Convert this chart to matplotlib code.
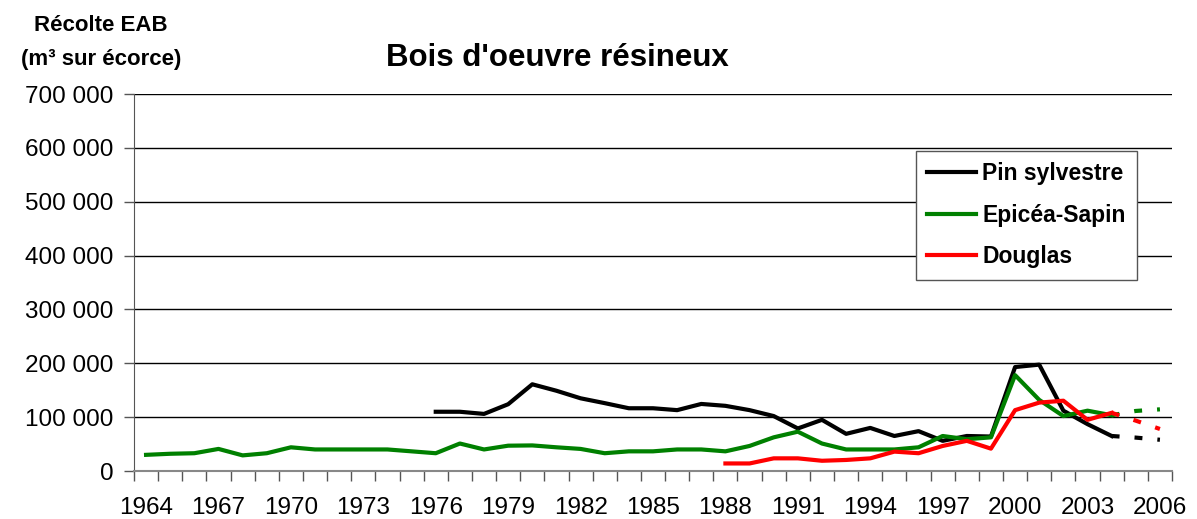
import matplotlib
matplotlib.use("Agg")
import matplotlib.pyplot as plt
from matplotlib.ticker import FuncFormatter

plt.rcParams['font.family'] = ['Liberation Sans', 'DejaVu Sans']

# Données (m3 sur écorce)
years_pin = list(range(1976, 2005))
pin = [110000, 110000, 106000, 124000, 161000, 149000, 135000, 126000, 116500,
       116500, 113000, 124500, 121000, 113000, 102000, 79000, 95000, 69000,
       80000, 65000, 74000, 56000, 65000, 64000, 193000, 197500, 112000,
       87000, 65000]

years_epi = list(range(1964, 2005))
epi = [30000, 32000, 33000, 41000, 29000, 33000, 44000, 40000, 40000, 40000,
       40000, 36500, 33000, 51000, 40000, 47000, 47500, 44000, 41000, 33000,
       36500, 36500, 40000, 40000, 36500, 46500, 62500, 73000, 51000, 40000,
       40000, 40000, 44000, 65000, 59000, 62500, 178000, 132000, 102000,
       112000, 103500]

years_dou = list(range(1988, 2005))
dou = [14000, 14000, 23500, 23500, 19000, 20500, 23500, 36000, 33000, 46500,
       56000, 41500, 113000, 127000, 130500, 95000, 108000]

# prévisions (pointillés)
years_prev = [2004, 2005, 2006]
pin_prev = [65000, 62000, 58000]
epi_prev = [103500, 111500, 114500]
dou_prev = [108000, 93500, 78000]

labels = ['Pin sylvestre', 'Epicéa-Sapin', 'Douglas']
colors = ['black', '#008000', '#ff0000']

fig = plt.figure(figsize=(11.97, 5.19), dpi=100)
ax = fig.add_axes([134 / 1197, 1 - 471 / 519, (1172 - 134) / 1197, (471 - 94) / 519])

lw = 3
ax.plot(years_pin, pin, color=colors[0], lw=lw, label=labels[0], zorder=3)
ax.plot(years_epi, epi, color=colors[1], lw=lw, label=labels[1], zorder=3)
ax.plot(years_dou, dou, color=colors[2], lw=lw, label=labels[2], zorder=3)

for ys, c in zip([pin_prev, epi_prev, dou_prev], colors):
    ax.plot(years_prev, ys, color=c, lw=lw, dashes=(1.9, 3.6),
            dash_capstyle='butt', zorder=3)

ax.set_xlim(1963.5, 2006.5)
ax.set_ylim(0, 700000)

ax.set_yticks(range(0, 700001, 100000))
ax.yaxis.set_major_formatter(FuncFormatter(lambda v, p: f"{int(v):,}".replace(",", " ")))
ax.grid(axis='y', color='black', lw=1)
ax.set_axisbelow(True)

ax.set_xticks(range(1964, 2007, 3))
ax.set_xticks([y + 0.5 for y in range(1963, 2007)], minor=True)
ax.tick_params(axis='x', which='major', length=0, pad=19, labelsize=17.5)
ax.tick_params(axis='x', which='minor', length=7, width=1, color='#555555')
ax.tick_params(axis='y', length=7, width=1, pad=8, labelsize=17.5, color='#555555')

for s in ['top', 'right']:
    ax.spines[s].set_visible(False)
ax.spines['left'].set_color('#555555')
ax.spines['bottom'].set_color('#888888')
ax.spines['bottom'].set_linewidth(1.5)

fig.text(557 / 1197, 1 - 66 / 519, "Bois d'oeuvre résineux", ha='center', va='baseline',
         fontsize=22.5, fontweight='bold')
fig.text(101 / 1197, 1 - 31 / 519, "Récolte EAB", ha='center', va='baseline',
         fontsize=16, fontweight='bold')
fig.text(101 / 1197, 1 - 65 / 519, "(m³ sur écorce)", ha='center', va='baseline',
         fontsize=16, fontweight='bold')

leg = ax.legend(loc='upper left', bbox_to_anchor=((916 - 134) / 1038, (471 - 151) / 377),
                prop={'weight': 'bold', 'size': 16.5}, frameon=True, fancybox=False,
                borderpad=0.5, handlelength=2.1, handletextpad=0.3, labelspacing=0.8,
                borderaxespad=0)
leg.get_frame().set_edgecolor('#555555')
leg.get_frame().set_linewidth(1)
leg.get_frame().set_alpha(1)

fig.savefig('out.png', dpi=100)
